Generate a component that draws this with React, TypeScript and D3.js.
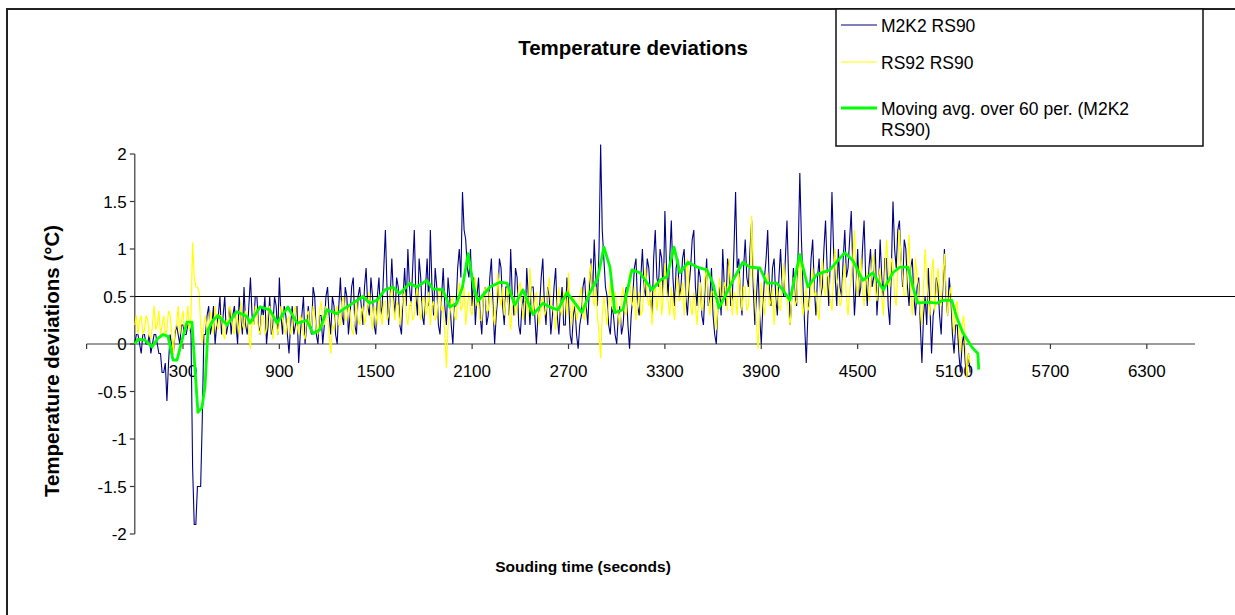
import React from "react";
import * as d3 from "d3";

const TITLE = "Temperature deviations";
const X_TITLE = "Souding time (seconds)";
const Y_TITLE = "Temperature deviations (°C)";
const SERIES_NAMES = ["M2K2 RS90", "RS92 RS90", "Moving avg. over 60 per. (M2K2", "RS90)"];

const X_TICKS = [-300, 300, 900, 1500, 2100, 2700, 3300, 3900, 4500, 5100, 5700, 6300];
const X_LABELS = [300, 900, 1500, 2100, 2700, 3300, 3900, 4500, 5100, 5700, 6300];
const Y_TICKS = [2, 1.5, 1, 0.5, 0, -0.5, -1, -1.5, -2];
const REF_LEVEL = 0.5;

const STEP = 10; // seconds between samples

const blueValues = [
  0, 0.1, 0.1, 0.0, -0.1, 0.1, 0.1, 0.0, 0.0, 0.1, -0.1, 0.0, 0.1, 0.1, 0.0, -0.1, -0.1, -0.3, -0.3, -0.2,
  -0.6, -0.2, 0.1, 0.0, -0.1, 0.1, 0.2, 0.1, 0.0, 0.2, 0.2, 0.1, 0.1, 0.2, 0.2, 0.1, -1.3, -1.9, -1.9, -1.5,
  -1.5, -1.5, -0.8, 0.1, 0.1, 0.3, 0.4, 0.1, 0.2, 0.4, 0.0, 0.2, 0.3, 0.5, 0.1, 0.3, 0.5, 0.1, 0.2, 0.4,
  0.1, 0.3, 0.4, 0.2, 0.0, 0.5, 0.3, 0.1, 0.6, 0.2, 0.1, 0.4, 0.7, 0.3, 0.2, 0.5, 0.5, 0.2, 0.1, 0.4,
  0.3, 0.5, 0.0, 0.2, 0.5, 0.1, 0.2, 0.5, 0.4, 0.1, 0.7, 0.3, 0.1, 0.4, 0.3, 0.1, -0.1, 0.2, 0.4, 0.1,
  0.2, 0.4, -0.2, 0.1, 0.3, 0.5, 0.0, 0.2, 0.4, 0.2, 0.1, 0.6, 0.5, 0.1, 0.0, 0.3, 0.3, 0.0, 0.2, 0.5,
  0.6, 0.3, 0.1, 0.5, 0.4, 0.1, 0.0, 0.4, 0.7, 0.3, 0.2, 0.6, 0.5, 0.1, 0.3, 0.6, 0.7, 0.2, 0.1, 0.5,
  0.6, 0.4, 0.2, 0.6, 0.8, 0.4, 0.3, 0.7, 0.5, 0.2, 0.1, 0.5, 0.7, 0.3, 0.4, 0.8, 1.2, 0.6, 0.2, 0.5,
  0.9, 0.5, 0.3, 0.7, 0.6, 0.2, 0.1, 0.5, 0.8, 0.4, 1.0, 0.6, 0.4, 0.8, 1.2, 0.5, 0.3, 0.9, 0.7, 0.3,
  0.2, 0.6, 0.9, 0.4, 1.2, 0.6, 0.3, 0.8, 0.6, 0.2, 0.1, 0.5, 0.8, 0.4, 0.2, 0.7, 0.5, 0.2, 0.0, 0.4,
  0.4, 0.8, 1.0, 0.7, 1.6, 1.2, 1.1, 0.8, 0.7, 1.0, 0.4, 0.7, 0.2, 0.5, 0.7, 0.3, 0.1, 0.5, 0.6, 0.2,
  0.3, 0.7, 0.9, 0.4, 0.0, 0.3, 0.5, 0.9, 0.8, 0.4, 0.2, 0.6, 0.6, 0.3, 1.0, 0.5, 0.3, 0.8, 0.7, 0.2,
  0.1, 0.4, 0.5, 0.2, 0.8, 0.5, 0.2, 0.6, 0.6, 0.3, 0.0, 0.3, 0.4, 0.7, 0.9, 0.4, 0.2, 0.6, 0.5, 0.1,
  0.3, 0.6, 0.8, 0.3, 0.1, 0.4, 0.6, 0.2, 0.2, 0.7, 0.5, 0.1, 0.0, 0.3, 0.4, 0.1, -0.05, 0.2, 0.3, 0.6,
  0.7, 0.4, 0.2, 0.6, 0.9, 0.5, 1.1, 0.7, 0.4, 1.0, 2.1, 1.2, 0.9, 0.6, 0.5, 0.2, 0.1, 0.4, 0.3, 0.1,
  0.0, 0.3, 0.4, 0.1, 0.2, 0.5, 0.6, 0.2, -0.05, 0.3, 0.5, 0.8, 0.9, 0.4, 0.3, 0.7, 1.0, 0.6, 0.5, 0.9,
  0.8, 0.5, 0.3, 0.9, 1.2, 0.7, 0.6, 1.0, 0.9, 0.5, 1.4, 0.8, 0.5, 0.9, 1.3, 0.7, 0.4, 0.8, 0.9, 0.5,
  0.6, 0.9, 1.0, 0.5, 0.3, 0.6, 0.8, 1.1, 1.2, 0.6, 0.4, 0.8, 0.7, 0.3, 0.2, 0.6, 0.9, 0.4, 0.5, 0.8,
  0.3, 0.1, 0.0, 0.4, 0.6, 0.3, 1.0, 0.6, 0.4, 0.9, 0.8, 0.4, 0.5, 1.0, 1.6, 0.8, 0.9, 0.5, 0.3, 0.8,
  1.1, 0.7, 0.6, 1.0, 1.3, 0.6, 0.2, 0.5, 0.8, 0.3, 0.0, 0.4, 0.7, 0.9, 1.2, 0.6, 0.4, 0.8, 0.9, 0.5,
  0.3, 0.7, 1.0, 0.6, 0.5, 0.9, 1.3, 0.7, 0.2, 0.5, 0.8, 0.5, 0.4, 1.0, 1.8, 1.1, 0.6, 0.2, -0.2, 0.3,
  0.5, 0.9, 1.1, 0.6, 0.3, 0.7, 0.9, 0.5, 0.6, 1.0, 1.3, 0.8, 0.4, 0.9, 1.6, 1.0, 0.7, 0.4, 1.0, 0.6,
  0.5, 0.9, 1.2, 0.7, 0.8, 1.1, 1.4, 0.8, 0.3, 0.6, 1.0, 0.5, 0.6, 1.0, 1.3, 0.7, 0.4, 0.8, 1.0, 0.6,
  0.7, 1.0, 0.3, 0.6, 1.1, 0.7, 0.5, 0.9, 0.9, 0.4, 0.2, 0.8, 1.5, 1.0, 0.8, 1.2, 1.3, 0.9, 0.6, 1.1,
  1.0, 0.6, 0.4, 0.8, 0.9, 0.5, 0.3, 0.6, 0.7, 0.2, -0.2, 0.3, 0.5, 0.2, 0.8, 0.4, -0.1, 0.3, 0.4, 0.7,
  0.6, 0.3, 0.1, 0.6, 1.0, 0.5, 0.3, 0.7, 0.5, 0.1, -0.1, 0.2, 0.2, -0.1, -0.3, 0.0, 0.1, -0.2, -0.35, -0.1,
  -0.3,
];

const yellowValues = [
  0.2, 0.3, 0.1, 0.25, 0.3, 0.1, 0.15, 0.3, 0.25, 0.1, 0.05, 0.2, 0.4, 0.15, 0.2, 0.35, 0.1, 0.2, 0.3, 0.1,
  0.15, 0.35, 0.3, 0.1, -0.1, 0.15, 0.2, 0.4, 0.1, 0.25, 0.35, 0.15, 0.2, 0.4, 0.15, 0.3, 1.07, 0.7, 0.6, 0.6,
  0.55, 0.2, 0.0, 0.2, 0.3, 0.15, 0.1, 0.35, 0.25, 0.1, 0.4, 0.2, 0.15, 0.3, 0.3, 0.1, 0.05, 0.25, 0.2, 0.4,
  0.35, 0.15, 0.1, 0.3, 0.25, 0.1, 0.45, 0.2, 0.15, 0.35, 0.3, 0.1, -0.05, 0.25, 0.2, 0.4, 0.35, 0.15, 0.1, 0.3,
  0.3, 0.1, 0.15, 0.35, 0.4, 0.2, 0.05, 0.3, 0.25, 0.1, 0.2, 0.4, 0.35, 0.15, 0.1, 0.25, 0.3, 0.1, 0.15, 0.35,
  0.4, 0.2, 0.1, 0.3, 0.25, 0.1, 0.05, 0.3, 0.35, 0.15, 0.2, 0.4, 0.3, 0.15, 0.1, 0.35, 0.45, 0.25, 0.2, 0.4,
  0.3, 0.1, -0.1, 0.2, 0.15, 0.35, 0.4, 0.2, 0.2, 0.45, 0.5, 0.25, 0.25, 0.4, 0.35, 0.15, 0.1, 0.3, 0.45, 0.25,
  0.2, 0.35, 0.4, 0.2, 0.3, 0.45, 0.55, 0.3, 0.15, 0.4, 0.35, 0.2, 0.5, 0.3, 0.2, 0.45, 0.45, 0.25, 0.3, 0.5,
  0.6, 0.4, 0.25, 0.45, 0.4, 0.2, 0.35, 0.5, 0.55, 0.3, 0.2, 0.4, 0.45, 0.25, 0.3, 0.5, 0.6, 0.35, 0.25, 0.45,
  0.5, 0.3, 0.35, 0.55, 0.2, 0.4, 0.45, 0.25, 0.3, 0.5, 0.6, 0.35, 0.4, 0.1, -0.25, 0.2, 0.3, 0.45, 0.5, 0.3,
  0.25, 0.5, 0.65, 0.35, 0.4, 0.6, 0.2, 0.4, 0.55, 0.35, 0.3, 0.5, 0.7, 0.4, 0.45, 0.25, 0.25, 0.5, 0.6, 0.35,
  0.35, 0.55, 0.5, 0.3, 0.2, 0.45, 0.75, 0.5, 0.4, 0.6, 0.3, 0.45, 0.6, 0.35, 0.15, 0.4, 0.5, 0.3, 0.4, 0.6,
  0.65, 0.4, 0.25, 0.5, 0.45, 0.3, 0.8, 0.5, 0.3, 0.45, 0.55, 0.35, 0.2, 0.45, 0.5, 0.3, 0.35, 0.55, 0.7, 0.4,
  0.4, 0.3, 0.15, 0.45, 0.6, 0.35, 0.3, 0.55, 0.5, 0.3, 0.75, 0.4, 0.2, 0.5, 0.45, 0.25, 0.35, 0.5, 0.6, 0.3,
  0.25, 0.45, 0.55, 0.7, 0.85, 0.5, 0.4, 0.6, 0.3, 0.1, -0.15, 0.3, 0.5, 0.35, 0.2, 0.45, 0.65, 0.4, 0.35, 0.55,
  0.45, 0.3, 0.2, 0.5, 0.6, 0.35, 0.3, 0.55, 0.75, 0.45, 0.4, 0.6, 0.25, 0.4, 0.55, 0.3, 0.35, 0.6, 0.8, 0.5,
  0.4, 0.55, 0.2, 0.45, 0.65, 0.35, 0.5, 0.7, 0.3, 0.5, 0.85, 0.55, 0.45, 0.3, 0.6, 0.4, 0.25, 0.55, 0.7, 0.45,
  0.5, 0.65, 0.3, 0.5, 0.9, 0.6, 0.4, 0.3, 0.55, 0.4, 0.2, 0.45, 0.65, 0.35, 0.45, 0.7, 0.8, 0.5, 0.3, 0.55,
  0.55, 0.3, 0.15, 0.4, 0.7, 0.5, 0.4, 0.65, 0.6, 0.35, 0.9, 0.6, 0.3, 0.55, 0.5, 0.3, 0.75, 0.55, 0.35, 0.6,
  0.6, 0.35, 0.4, 0.7, 1.35, 0.8, 0.5, 0.2, -0.05, 0.35, 0.65, 0.45, 0.3, 0.55, 0.75, 0.4, 0.45, 0.6, 0.2, 0.45,
  0.6, 0.4, 0.35, 0.65, 0.85, 0.55, 0.5, 0.3, 0.2, 0.5, 0.7, 0.4, 0.45, 0.75, 0.95, 0.5, 0.3, 0.45, 0.6, 0.35,
  0.4, 0.6, 0.8, 0.5, 0.55, 0.35, 0.25, 0.6, 0.9, 0.6, 0.5, 0.75, 0.7, 0.45, 0.35, 0.7, 1.0, 0.7, 0.6, 0.4,
  0.45, 0.7, 0.85, 0.5, 0.3, 0.55, 0.7, 0.9, 1.2, 0.7, 0.5, 0.75, 0.9, 0.55, 0.4, 0.65, 0.75, 0.45, 0.6, 0.85,
  0.95, 0.6, 0.45, 0.7, 0.8, 0.5, 0.3, 0.75, 1.1, 0.8, 0.6, 0.9, 0.85, 0.5, 0.4, 0.8, 1.2, 0.9, 0.7, 0.5,
  0.5, 0.8, 1.15, 0.6, 0.3, 0.55, 0.9, 0.7, 0.6, 0.35, 0.2, 0.6, 1.0, 0.7, 0.45, 0.3, 0.75, 0.9, 0.35, 0.6,
  0.8, 0.55, 0.4, 0.7, 0.95, 0.6, 0.3, 0.5, 0.6, 0.3, 0.1, 0.4, 0.45, 0.15, -0.1, 0.2, 0.3, 0.0, -0.35, -0.1,
  -0.2,
];

const greenTimes = [
  0, 20, 63, 107, 144, 176, 207, 238, 263, 294, 325, 356, 375, 393, 418, 437, 456, 487, 518, 574,
  636, 698, 717, 779, 841, 885, 953, 1010, 1071, 1109, 1152, 1196, 1258, 1320, 1358, 1420, 1463, 1507, 1557, 1607,
  1650, 1712, 1756, 1818, 1855, 1918, 1961, 2005, 2040, 2075, 2110, 2136, 2160, 2211, 2273, 2317, 2366, 2416, 2479, 2541,
  2597, 2634, 2690, 2740, 2783, 2833, 2883, 2920, 2958, 2989, 3039, 3095, 3145, 3220, 3269, 3313, 3357, 3394, 3444, 3500,
  3562, 3599, 3636, 3686, 3723, 3786, 3829, 3891, 3935, 3997, 4034, 4078, 4140, 4190, 4246, 4327, 4377, 4420, 4470, 4532,
  4594, 4660, 4719, 4763, 4813, 4844, 4875, 4931, 4993, 5030, 5086, 5117, 5154, 5210, 5248, 5254,
];
const greenValues = [
  0, 0.05, 0.04, -0.03, 0.06, 0.1, 0.08, -0.17, -0.17, 0.04, 0.23, 0.23, -0.27, -0.72, -0.67, -0.45, 0.15, 0.25, 0.3, 0.2,
  0.34, 0.29, 0.22, 0.39, 0.36, 0.22, 0.39, 0.22, 0.25, 0.11, 0.15, 0.36, 0.32, 0.39, 0.43, 0.5, 0.43, 0.46, 0.57, 0.6,
  0.53, 0.64, 0.6, 0.67, 0.58, 0.57, 0.39, 0.43, 0.6, 0.95, 0.6, 0.45, 0.5, 0.6, 0.65, 0.64, 0.41, 0.57, 0.31, 0.43,
  0.38, 0.36, 0.54, 0.43, 0.33, 0.54, 0.7, 1.02, 0.81, 0.33, 0.36, 0.78, 0.75, 0.57, 0.67, 0.71, 1.02, 0.75, 0.86, 0.81,
  0.78, 0.64, 0.38, 0.54, 0.67, 0.86, 0.81, 0.8, 0.64, 0.64, 0.57, 0.46, 0.94, 0.6, 0.73, 0.78, 0.88, 0.96, 0.88, 0.67,
  0.75, 0.57, 0.75, 0.81, 0.81, 0.6, 0.43, 0.44, 0.43, 0.46, 0.46, 0.28, 0.12, -0.03, -0.1, -0.27,
];

const FONT = "'Liberation Sans', Arial, Helvetica, sans-serif";

export default function App() {
  const W = 1235;
  const H = 615;
  const x = d3.scaleLinear().domain([-300, 6600]).range([86.6, 1195]);
  const y = d3.scaleLinear().domain([-2, 2]).range([534, 154]);

  const line = d3
    .line<[number, number]>()
    .x((d) => x(d[0]))
    .y((d) => y(d[1]));

  const blue: [number, number][] = blueValues.map((v, i) => [i * STEP, v]);
  const yellow: [number, number][] = yellowValues.map((v, i) => [i * STEP, v]);
  const green: [number, number][] = greenTimes.map((t, i) => [t, greenValues[i]]);

  const x0 = x(0);
  const axisColor = "#3a3a3a";

  return (
    <svg
      width={W}
      height={H}
      style={{ position: "absolute", left: 0, top: 0, background: "#fff" }}
      fontFamily={FONT}
    >
      <rect x={0} y={0} width={W} height={H} fill="#fff" />
      <rect x={7} y={9} width={1400} height={800} fill="none" stroke="#222" strokeWidth={2} />

      <text x={633} y={55} textAnchor="middle" fontWeight="bold" fontSize={20.5} fill="#000">
        {TITLE}
      </text>

      {/* y axis */}
      <line x1={x0} x2={x0} y1={y(2)} y2={y(-2)} stroke={axisColor} strokeWidth={1.2} />
      {Y_TICKS.map((v) => (
        <g key={"yt" + v}>
          <line x1={x0 - 5} x2={x0} y1={y(v)} y2={y(v)} stroke={axisColor} strokeWidth={1.2} />
          <text x={x0 - 8} y={y(v) + 6} textAnchor="end" fontSize={17} fill="#000">
            {String(v)}
          </text>
        </g>
      ))}

      {/* x axis */}
      <line x1={x(-300)} x2={x(6600)} y1={y(0)} y2={y(0)} stroke={axisColor} strokeWidth={1.2} />
      {X_TICKS.map((t) => (
        <line key={"xt" + t} x1={x(t)} x2={x(t)} y1={y(0)} y2={y(0) + 5} stroke={axisColor} strokeWidth={1.2} />
      ))}
      {X_LABELS.map((t) => (
        <text key={"xl" + t} x={x(t)} y={y(0) + 33} textAnchor="middle" fontSize={17} fill="#000">
          {String(t)}
        </text>
      ))}

      {/* series */}
      <path d={line(blue) || ""} fill="none" stroke="#000080" strokeWidth={1.1} />
      <path d={line(yellow) || ""} fill="none" stroke="#FFFF00" strokeWidth={1.2} />
      <line x1={x0} x2={W} y1={y(REF_LEVEL)} y2={y(REF_LEVEL)} stroke="#000" strokeWidth={1.2} />
      <path d={line(green) || ""} fill="none" stroke="#00FF00" strokeWidth={2.8} strokeLinejoin="round" />

      {/* axis titles */}
      <text
        transform={`translate(52,361) rotate(-90)`}
        textAnchor="middle"
        fontWeight="bold"
        fontSize={20.5}
        fill="#000"
        dy={7}
      >
        {Y_TITLE}
      </text>
      <text x={583} y={572} textAnchor="middle" fontWeight="bold" fontSize={15.5} fill="#000">
        {X_TITLE}
      </text>

      {/* legend */}
      <rect x={836} y={9} width={367} height={137} fill="#fff" stroke="#111" strokeWidth={1.5} />
      <line x1={841} x2={877} y1={25} y2={25} stroke="#000080" strokeWidth={1.2} />
      <text x={881} y={32} fontSize={17.5} fill="#000">{SERIES_NAMES[0]}</text>
      <line x1={841} x2={877} y1={62} y2={62} stroke="#FFFF00" strokeWidth={1.2} />
      <text x={881} y={69} fontSize={17.5} fill="#000">{SERIES_NAMES[1]}</text>
      <line x1={841} x2={877} y1={108} y2={108} stroke="#00FF00" strokeWidth={2.8} />
      <text x={881} y={115} fontSize={17.5} fill="#000">{SERIES_NAMES[2]}</text>
      <text x={881} y={136} fontSize={17.5} fill="#000">{SERIES_NAMES[3]}</text>
    </svg>
  );
}
